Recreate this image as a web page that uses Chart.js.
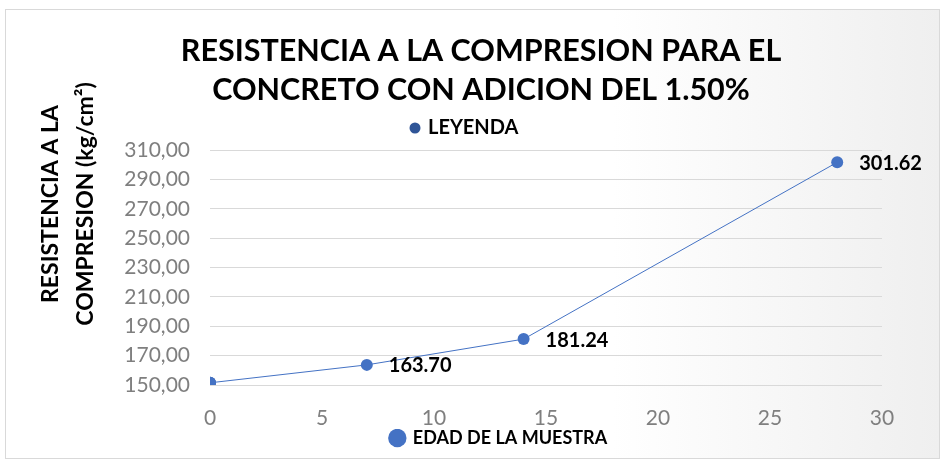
<!DOCTYPE html>
<html>
<head>
<meta charset="utf-8">
<script src="https://cdn.jsdelivr.net/npm/chart.js@4.4.0/dist/chart.umd.min.js"></script>
<style>
  html, body { margin: 0; padding: 0; background: #fff; }
  #frame {
    position: absolute; left: 5px; top: 9px; width: 935px; height: 450px;
    box-sizing: border-box; border: 1px solid #d9d9d9;
    background: linear-gradient(to right, #ffffff 0%, #ffffff 65%, #efefef 100%);
  }
  #chart { position: absolute; left: 0; top: 0; }
</style>
</head>
<body>
<div id="frame"></div>
<canvas id="chart" width="940" height="459"></canvas>
<script>
const titleLines = ["RESISTENCIA A LA COMPRESION PARA EL", "CONCRETO CON ADICION DEL 1.50%"];
const yTitle = ["RESISTENCIA A LA", "COMPRESION (kg/cm\u00B2)"];
const seriesName = "EDAD DE LA MUESTRA";
const legendName = "LEYENDA";

const ages = [0, 7, 14, 28];
const strength = [151.5, 163.70, 181.24, 301.62];
const legendAges = [0];
const legendValues = [151.5];

const yTicks = { min: 150, max: 310, step: 20 };
const xTicks = { min: 0, max: 30, step: 5 };

const blue = "#4472c4";
const darkBlue = "#2f5597";

// title, top legend entry and the y axis title, drawn on the canvas
const headerPlugin = {
  id: "header",
  beforeInit(chart) {
    const fit = chart.legend.fit;
    chart.legend.fit = function () {
      fit.call(this);
      this.height = 30;
    };
  },
  afterDraw(chart) {
    const ctx = chart.ctx;
    ctx.save();
    ctx.fillStyle = "#000";
    ctx.textAlign = "center";
    ctx.textBaseline = "middle";
    ctx.font = "bold 30.5px Lato";
    titleLines.forEach((line, i) => ctx.fillText(line, 481, 51 + i * 39));

    ctx.font = "bold 20px Lato";
    ctx.textAlign = "left";
    ctx.fillText(legendName, 428, 128);
    ctx.beginPath();
    ctx.arc(415, 128, 5.5, 0, Math.PI * 2);
    ctx.fillStyle = darkBlue;
    ctx.fill();

    ctx.fillStyle = "#000";
    ctx.textAlign = "center";
    ctx.font = "bold 23px Lato";
    ctx.translate(0, 204);
    ctx.rotate(-Math.PI / 2);
    yTitle.forEach((line, i) => ctx.fillText(line, 0, 51 + i * 35));
    ctx.restore();
  }
};

const valueLabels = {
  id: "valueLabels",
  afterDatasetsDraw(chart) {
    const ctx = chart.ctx;
    const meta = chart.getDatasetMeta(0);
    ctx.save();
    ctx.font = "bold 20px Lato";
    ctx.fillStyle = "#000";
    ctx.textAlign = "left";
    ctx.textBaseline = "middle";
    meta.data.forEach((pt, i) => {
      if (ages[i] === 0) return;
      ctx.fillText(strength[i].toFixed(2), pt.x + 22, pt.y + 1);
    });
    ctx.restore();
  }
};

new Chart(document.getElementById("chart"), {
  type: "scatter",
  data: {
    datasets: [
      {
        label: seriesName,
        data: ages.map((x, i) => ({ x, y: strength[i] })),
        showLine: true,
        borderColor: blue,
        borderWidth: 1,
        backgroundColor: blue,
        pointRadius: 6,
        pointHoverRadius: 6,
        pointBorderWidth: 0
      },
      {
        label: legendName,
        data: legendAges.map((x, i) => ({ x, y: legendValues[i] })),
        backgroundColor: darkBlue,
        pointRadius: 6,
        pointBorderWidth: 0
      }
    ]
  },
  options: {
    responsive: false,
    animation: false,
    layout: { padding: { top: 150, left: 116, right: 58, bottom: 0 } },
    plugins: {
      tooltip: { enabled: false },
      legend: {
        position: "bottom",
        labels: {
          filter: item => item.datasetIndex === 0,
          usePointStyle: true,
          pointStyle: "circle",
          boxWidth: 13,
          boxHeight: 13,
          color: "#000",
          font: { family: "Lato", size: 18, weight: "bold" },
          padding: 0
        }
      }
    },
    scales: {
      x: {
        type: "linear",
        min: xTicks.min,
        max: xTicks.max,
        ticks: {
          stepSize: xTicks.step,
          color: "#7f7f7f",
          font: { family: "Lato", size: 21 },
          padding: 21
        },
        grid: { display: false, drawTicks: false },
        border: { display: false },
        afterFit(scale) { scale.height = 44; }
      },
      y: {
        min: yTicks.min,
        max: yTicks.max,
        ticks: {
          stepSize: yTicks.step,
          autoSkip: false,
          color: "#7f7f7f",
          font: { family: "Lato", size: 21 },
          padding: 20,
          callback: v => v.toFixed(2).replace(".", ",")
        },
        grid: { color: "#d9d9d9", drawTicks: false },
        border: { display: false },
        afterFit(scale) { scale.width = 94; }
      }
    }
  },
  plugins: [headerPlugin, valueLabels]
});
</script>
</body>
</html>
